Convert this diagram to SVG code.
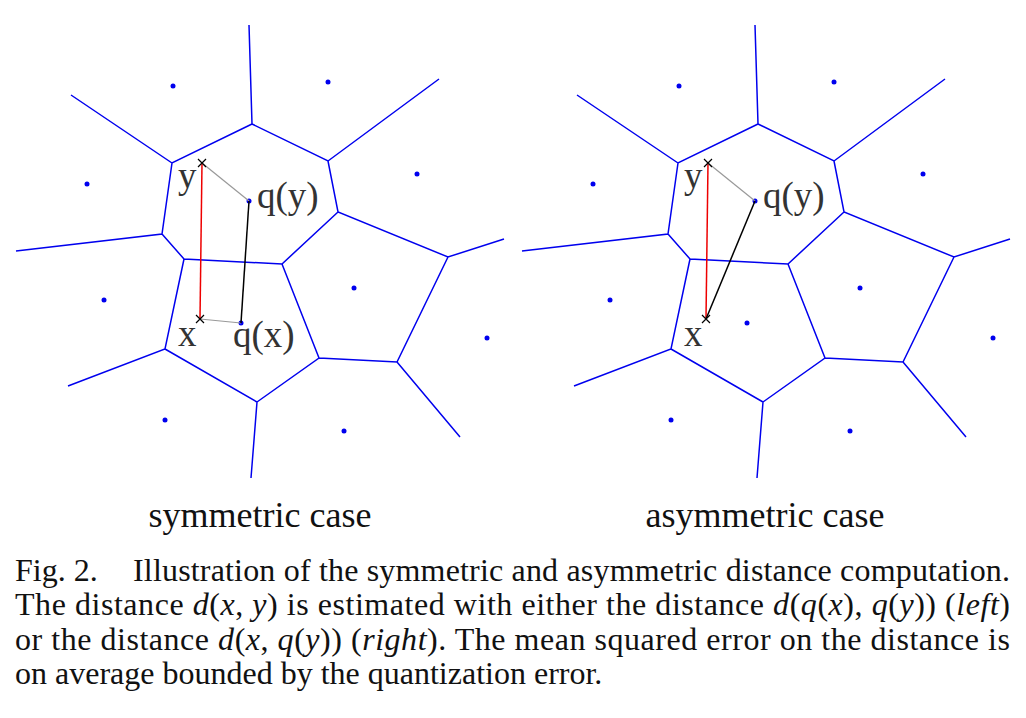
<svg xmlns="http://www.w3.org/2000/svg" width="1026" height="718" viewBox="0 0 1026 718">
<style>
.v{stroke:#0000ee;stroke-width:1.5;fill:none}
.d{fill:#0000ee}
.lbl{font-family:"Liberation Serif","Times New Roman",serif;font-size:37px;fill:#333}
.cap{font-family:"Liberation Serif","Times New Roman",serif;font-size:36px;fill:#111}
.txt{font-family:"Liberation Serif","Times New Roman",serif;font-size:32px;fill:#111}
.i{font-style:italic}
.cr{stroke:#000;stroke-width:1.2}
</style>
<defs>
<g id="voronoi">
<path class="v" d="M252,124 L249,25 M252,124 L172,163 L71,95 M252,124 L328,161 L439,79 M328,161 L338,212 L448,257 L504,239 M172,163 L162,234 L16,251 M162,234 L184,259 L282,264 L338,212 M184,259 L165,349 L68,386 M165,349 L257,402 L251,478 M257,402 L319,358 L282,264 M319,358 L397,362 L448,257 M397,362 L460,437"/>
<circle class="d" cx="173" cy="86" r="2.5"/><circle class="d" cx="328" cy="82" r="2.5"/>
<circle class="d" cx="87" cy="184" r="2.5"/><circle class="d" cx="417" cy="174" r="2.5"/>
<circle class="d" cx="249" cy="201" r="2.5"/><circle class="d" cx="104" cy="300" r="2.5"/>
<circle class="d" cx="354" cy="288" r="2.5"/><circle class="d" cx="241" cy="323" r="2.5"/>
<circle class="d" cx="487" cy="338" r="2.5"/><circle class="d" cx="165" cy="420" r="2.5"/>
<circle class="d" cx="344" cy="431" r="2.5"/>
</g>
<path id="x" class="cr" d="M-4,-4 L4,4 M-4,4 L4,-4"/>
</defs>
<g id="left">
<use href="#voronoi"/>
<g id="conn-left">
<line x1="202" y1="163" x2="200" y2="319" stroke="#e00" stroke-width="1.5"/>
<line x1="202" y1="163" x2="249" y2="201" stroke="#999" stroke-width="1.2"/>
<line x1="200" y1="319" x2="241" y2="323" stroke="#999" stroke-width="1.2"/>
<line x1="249" y1="201" x2="241" y2="323" stroke="#000" stroke-width="1.5"/>
</g>
<use href="#x" x="202" y="163"/><use href="#x" x="200" y="319"/>
<text class="lbl" x="178" y="188">y</text>
<text class="lbl" x="257" y="208">q(y)</text>
<text class="lbl" x="178" y="346">x</text>
<text class="lbl" x="233" y="347">q(x)</text>
<text class="cap" x="260" y="527" text-anchor="middle">symmetric case</text>
</g>
<g id="right">
<use href="#voronoi" x="506"/>
<g id="conn-right">
<line x1="708" y1="163" x2="706" y2="319" stroke="#e00" stroke-width="1.5"/>
<line x1="708" y1="163" x2="755" y2="201" stroke="#999" stroke-width="1.2"/>
<line x1="755" y1="201" x2="706" y2="319" stroke="#000" stroke-width="1.5"/>
</g>
<use href="#x" x="708" y="163"/><use href="#x" x="706" y="319"/>
<text class="lbl" x="684" y="188">y</text>
<text class="lbl" x="763" y="208">q(y)</text>
<text class="lbl" x="684" y="346">x</text>
<text class="cap" x="765" y="527" text-anchor="middle">asymmetric case</text>
</g>
<g id="caption">
<text class="txt" x="15" y="581">Fig. 2.</text>
<text class="txt" x="133" y="581" textLength="877" lengthAdjust="spacing">Illustration of the symmetric and asymmetric distance computation.</text>
<text class="txt" x="15" y="615" textLength="995" lengthAdjust="spacing">The distance <tspan class="i">d</tspan>(<tspan class="i">x</tspan>, <tspan class="i">y</tspan>) is estimated with either the distance <tspan class="i">d</tspan>(<tspan class="i">q</tspan>(<tspan class="i">x</tspan>), <tspan class="i">q</tspan>(<tspan class="i">y</tspan>)) (<tspan class="i">left</tspan>)</text>
<text class="txt" x="15" y="650" textLength="995" lengthAdjust="spacing">or the distance <tspan class="i">d</tspan>(<tspan class="i">x</tspan>, <tspan class="i">q</tspan>(<tspan class="i">y</tspan>)) (<tspan class="i">right</tspan>). The mean squared error on the distance is</text>
<text class="txt" x="15" y="684">on average bounded by the quantization error.</text>
</g>
</svg>
